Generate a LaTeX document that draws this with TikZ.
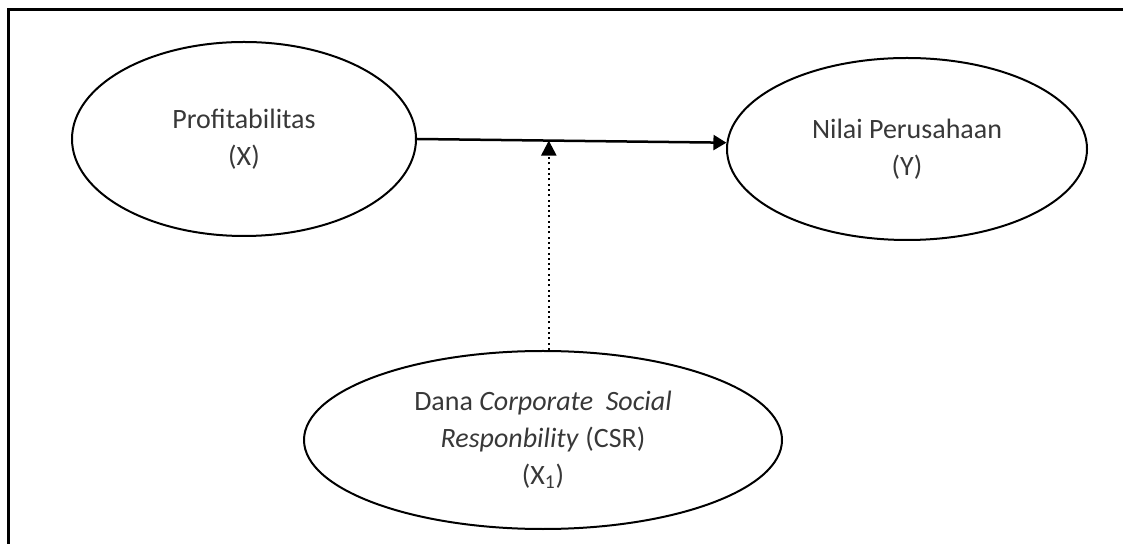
\documentclass[tikz,border=0pt]{standalone}
\usepackage{fontspec}
\setmainfont{Carlito}
\usetikzlibrary{shapes.geometric,arrows.meta,calc}
\begin{document}
\begin{tikzpicture}[x=0.5pt,y=-0.5pt,
  var/.style={ellipse,draw,line width=1pt,inner sep=0pt,align=center,
    font=\fontsize{14pt}{18.5pt}\selectfont,text=black!78},
  link/.style={line width=1.25pt,-{Triangle[length=6.5pt,width=7.5pt]}},
  modlink/.style={line width=1.2pt,dash pattern=on 1pt off 1.65pt,
    -{Triangle[length=7.5pt,width=7.5pt]}}]
\useasboundingbox (0,0) rectangle (1123,544);
\draw[line width=1.5pt,line join=miter] (8,544) -- (8,10) -- (1123,10);
\node[var,minimum width=172pt,minimum height=97pt] (p) at (244,139) {Profitabilitas\\(X)};
\node[var,minimum width=180pt,minimum height=91pt] (n) at (907,149) {Nilai Perusahaan\\(Y)};
\node[var,minimum width=239pt,minimum height=89pt] (c) at (543,440)
  {Dana \textit{Corporate\ \ Social}\\\textit{Responbility} (CSR)\\(X\textsubscript{1})};
\draw[link] (p.east) -- (n.178);
\coordinate (m) at ($(p.east)!0.426!(n.178)$);
\draw[modlink] (m |- c.north) -- (m);
\end{tikzpicture}
\end{document}
